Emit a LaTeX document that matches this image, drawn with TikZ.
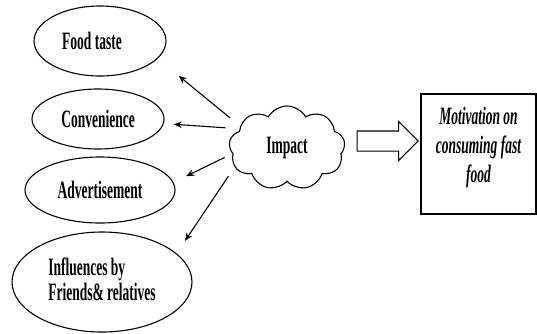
\documentclass[tikz,border=0pt]{standalone}
\usepackage{fontspec}
\setmainfont{Liberation Serif}
\usepackage{graphicx}
\usetikzlibrary{arrows.meta,shapes.geometric,shapes.symbols,shapes.arrows,calc}
\newcommand\narrow[1]{\scalebox{0.54}[1]{#1}}

\begin{document}
\begin{tikzpicture}[x=1pt,y=-1pt,line width=1.1pt,
  oval/.style={draw,ellipse,inner sep=0pt,font=\bfseries\fontsize{25}{29}\selectfont},
  ray/.style={-{Stealth[length=8pt,width=6.5pt]}}]
\useasboundingbox (0,0) rectangle (537,333);
\node[oval,minimum width=132pt,minimum height=70pt] (food) at (100,41) {\narrow{Food taste}\hspace*{16pt}};
\node[oval,minimum width=132pt,minimum height=60pt] (conv) at (98,119) {\narrow{Convenience}};
\node[oval,minimum width=150pt,minimum height=66pt] (adv) at (100,190) {\narrow{Advertisement}};
\node[oval,minimum width=180pt,minimum height=100pt] (infl) at (102,282)
  {\narrow{\begin{tabular}{@{}l@{}}Influences by\\[-4pt]Friends\& relatives\end{tabular}}};
\node[cloud,draw,cloud puffs=9,cloud puff arc=120,aspect=1.38,inner sep=0pt,
  minimum width=116pt,minimum height=84pt,font=\bfseries\fontsize{25}{29}\selectfont]
  (impact) at (287,148) {\narrow{Impact}};
\node[draw,minimum width=115pt,minimum height=120pt,inner sep=0pt,
  font=\bfseries\itshape\fontsize{25}{29}\selectfont] (motiv) at (478.5,154)
  {\raisebox{6pt}[\height][\depth]{\narrow{\begin{tabular}{@{}c@{}}Motivation on\\consuming fast\\food\end{tabular}}}};
\node[single arrow,draw,inner xsep=0pt,inner ysep=9.5pt,single arrow head extend=9.5pt,
  minimum height=61pt,yshift=10pt] (push) at ($(impact.east)!0.5!(motiv.west)$) {};
\draw[ray,shorten <=13pt,shorten >=27pt] (impact.155) -- (food.-17);
\draw[ray,shorten <=14pt,shorten >=10pt] (impact.158) -- (conv.-4);
\draw[ray,shorten <=8.5pt,shorten >=14pt] (impact.186) -- (adv.6);
\draw[ray,shorten <=11pt,shorten >=15pt] (impact.200) -- (infl.21);
\end{tikzpicture}
\end{document}
